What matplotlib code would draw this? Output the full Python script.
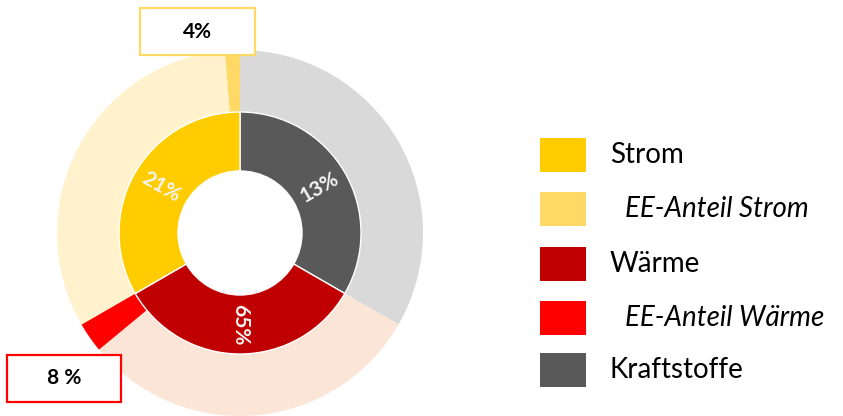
import numpy as np
import matplotlib.pyplot as plt
from matplotlib.patches import Rectangle

# inner ring: three equal sectors, labelled with their shares
sectors = ["Kraftstoffe", "Wärme", "Strom"]
sector_size = [1, 1, 1]
sector_labels = ["13%", "65%", "21%"]
inner_colors = ["#595959", "#C00000", "#FFCC00"]

# outer ring: renewable share inside Wärme and Strom
ee_waerme = 8   # %
ee_strom = 4    # %
outer_sizes = [sector_size[0],
               sector_size[1] * (100 - ee_waerme) / 100, sector_size[1] * ee_waerme / 100,
               sector_size[2] * (100 - ee_strom) / 100, sector_size[2] * ee_strom / 100]
outer_colors = ["#D9D9D9", "#FBE5D6", "#FF0000", "#FFF2CC", "#FFD966"]

legend_labels = ["Strom", "EE-Anteil Strom", "Wärme", "EE-Anteil Wärme", "Kraftstoffe"]
legend_colors = ["#FFCC00", "#FFD966", "#C00000", "#FF0000", "#595959"]
legend_italic = [False, True, False, True, False]

W, H = 843, 416
fig = plt.figure(figsize=(W / 100, H / 100), dpi=100)

# axes placed so the donut centre sits at (240, 233) px, outer radius 183 px
cx, cy, R = 240, 233, 183
half = 200
ax = fig.add_axes([(cx - half) / W, (H - cy - half) / H, 2 * half / W, 2 * half / H])
lim = half / R

r_in = 121 / R
r_hole = 62 / R

ax.pie(outer_sizes, colors=outer_colors, radius=1.0, startangle=90, counterclock=False,
       wedgeprops=dict(width=1.0 - r_in, linewidth=0))
inner, _ = ax.pie(sector_size, colors=inner_colors, radius=r_in, startangle=90, counterclock=False,
                  wedgeprops=dict(width=r_in - r_hole, edgecolor="white", linewidth=1))

r_lab = (r_in + r_hole) / 2
for w, lab in zip(inner, sector_labels):
    ang = ((w.theta1 + w.theta2) / 2) % 360
    rot = ang
    if 90 < rot < 270:
        rot -= 180
    elif rot >= 270:
        rot -= 360
    ax.text(r_lab * np.cos(np.radians(ang)), r_lab * np.sin(np.radians(ang)), lab,
            ha="center", va="center", rotation=rot, rotation_mode="anchor",
            color="#F4F4F4", fontsize=15, fontweight="bold", family="Lato")

ax.set_xlim(-lim, lim)
ax.set_ylim(-lim, lim)
ax.axis("off")


def value_box(x0, y0, x1, y1, text, edge):
    fig.patches.append(Rectangle((x0 / W, 1 - y1 / H), (x1 - x0) / W, (y1 - y0) / H,
                                 transform=fig.transFigure, facecolor="white",
                                 edgecolor=edge, linewidth=1.6, zorder=5))
    fig.text((x0 + x1) / 2 / W, 1 - (y0 + y1) / 2 / H, text, ha="center", va="center",
             fontsize=15, fontweight="bold", family="Lato", zorder=6)


value_box(140, 8, 255, 55, f"{ee_strom}%", "#FFD966")
value_box(7, 355, 121, 402, f"{ee_waerme} %", "#FF0000")

# legend
y_rows = [155, 209, 264, 318, 370]
for yc, lab, col, it in zip(y_rows, legend_labels, legend_colors, legend_italic):
    fig.patches.append(Rectangle((540 / W, 1 - (yc + 17) / H), 46 / W, 34 / H,
                                 transform=fig.transFigure, facecolor=col, edgecolor="none"))
    fig.text((625 if it else 610) / W, 1 - yc / H, lab, ha="left", va="center",
             fontsize=20, family="Lato", style="italic" if it else "normal")

fig.savefig("out.png", dpi=100)
